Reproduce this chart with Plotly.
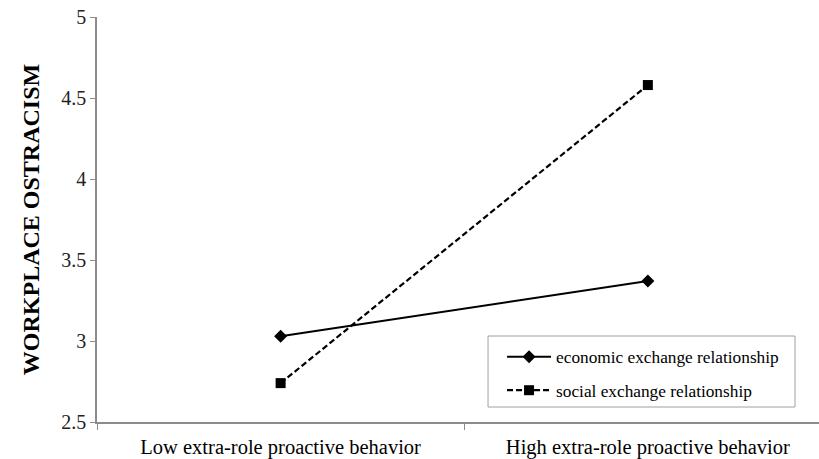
import plotly.graph_objects as go

categories = ["Low extra-role proactive behavior", "High extra-role proactive behavior"]
economic = [3.03, 3.37]
social = [2.74, 4.58]
series_names = ["economic exchange relationship", "social exchange relationship"]
y_ticks = [2.5, 3, 3.5, 4, 4.5, 5]
y_tick_labels = ["2.5", "3", "3.5", "4", "4.5", "5"]

xpos = list(range(len(categories)))
FONT = "Liberation Serif, Times New Roman, serif"
AX = "#8c8c8c"

fig = go.Figure()
fig.add_trace(go.Scatter(
    x=xpos, y=economic, name=series_names[0], mode="lines+markers",
    legendgroup="a",
    line=dict(color="black", width=2),
    marker=dict(symbol="diamond", size=10, color="black"),
))
fig.add_trace(go.Scatter(
    x=xpos, y=social, name=series_names[1], mode="lines+markers",
    legendgroup="b",
    line=dict(color="black", width=2.2, dash="6px,3px"),
    marker=dict(symbol="square", size=10, color="black"),
))
# invisible trace for the label axis
fig.add_trace(go.Scatter(x=xpos, y=economic, xaxis="x2", mode="none",
                         showlegend=False, hoverinfo="skip"))

# legend frame
fig.add_shape(type="rect", xref="paper", yref="paper",
              x0=0.5416, x1=0.9668, y0=0.037, y1=0.2123,
              line=dict(color="#a0a0a0", width=1), fillcolor="white",
              layer="above")

xr = [-0.5, 1.466]
fig.update_layout(
    width=819, height=459,
    margin=dict(l=97, r=0, t=17, b=37),
    paper_bgcolor="white", plot_bgcolor="white",
    font=dict(family=FONT, color="black"),
    xaxis=dict(
        range=xr, tickvals=[-0.5, 0.5, 1.5], ticktext=["", "", ""],
        ticks="outside", ticklen=6, tickcolor=AX, tickwidth=1,
        showline=True, linecolor=AX, linewidth=1.5,
        showgrid=False, zeroline=False, automargin=False,
    ),
    xaxis2=dict(
        range=xr, overlaying="x", side="bottom",
        tickvals=xpos, ticktext=categories, ticks="",
        tickfont=dict(size=20.5, family=FONT, color="black"),
        ticklabelstandoff=10, automargin=False,
        showline=False, showgrid=False, zeroline=False,
    ),
    yaxis=dict(
        range=[2.5, 5], tickvals=y_ticks, ticktext=y_tick_labels,
        ticks="outside", ticklen=5, tickcolor=AX, tickwidth=1,
        showline=True, linecolor=AX, linewidth=1.5,
        showgrid=False, zeroline=False,
        tickfont=dict(size=20, family=FONT, color="#222222"),
        title=dict(text="<b>WORKPLACE OSTRACISM</b>",
                   font=dict(size=24, family=FONT, color="black"), standoff=15),
        automargin=False,
    ),
    legend=dict(
        x=0.561, y=0.205, xanchor="left", yanchor="top",
        borderwidth=0, bgcolor="rgba(0,0,0,0)",
        font=dict(size=17.3, family=FONT, color="black"),
        tracegroupgap=8, itemwidth=44,
    ),
    showlegend=True,
)

fig.write_html("out.html", post_script="document.body.style.margin='0px';",
               config={"displayModeBar": False})
